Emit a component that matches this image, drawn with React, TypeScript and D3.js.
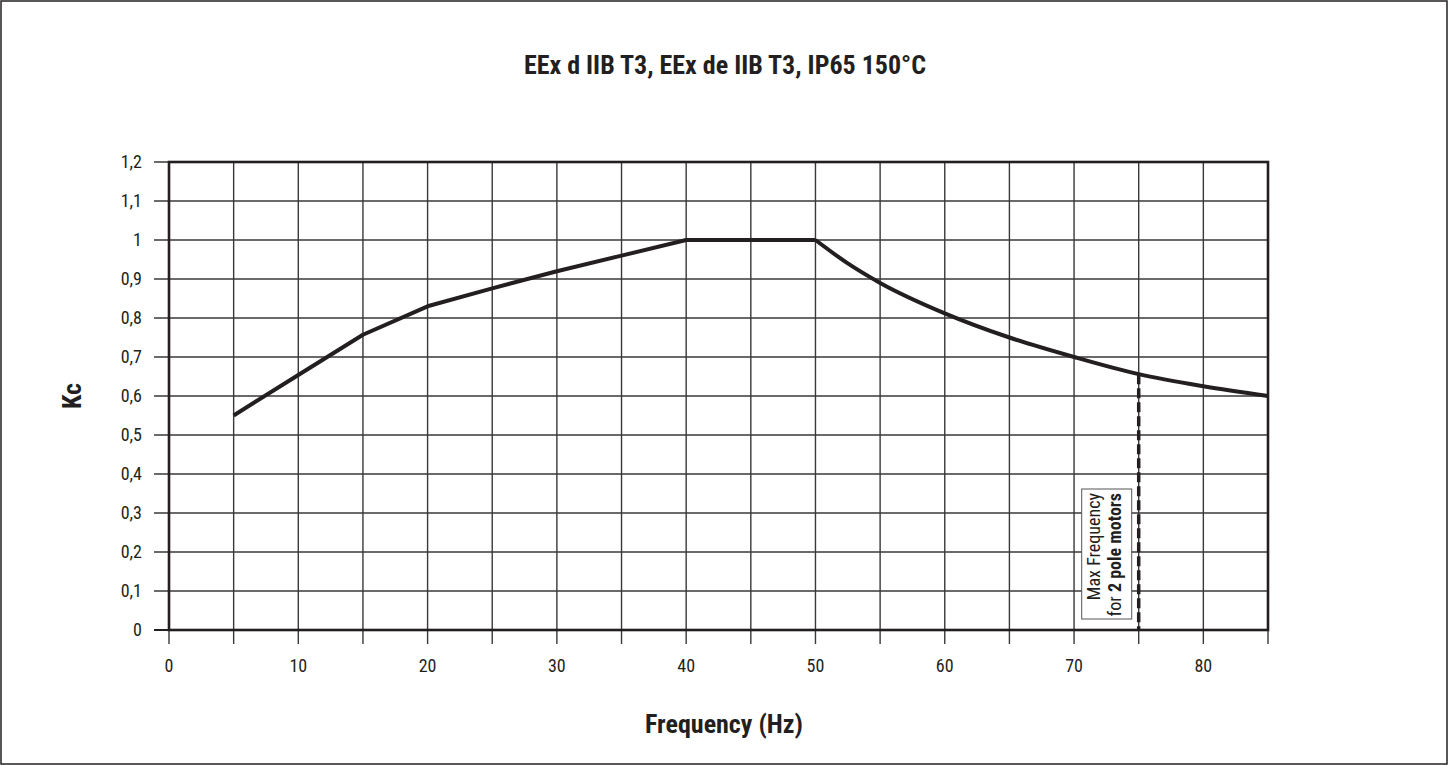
import { useEffect, useRef } from 'react';
import * as d3 from 'd3';

// chart values
const title = 'EEx d IIB T3, EEx de IIB T3, IP65 150°C';
const xTicks = [0, 10, 20, 30, 40, 50, 60, 70, 80];
const yTicks = [0, 0.1, 0.2, 0.3, 0.4, 0.5, 0.6, 0.7, 0.8, 0.9, 1, 1.1, 1.2];
const rampFreq = [5, 10, 15, 20, 25, 30, 35, 40, 50];
const rampKc = [0.55, 0.654, 0.757, 0.83, 0.876, 0.92, 0.96, 1.0, 1.0];
const decayFreq = [50, 52.5, 55, 60, 65, 70, 75, 80, 85];
const decayKc = [1.0, 0.94, 0.89, 0.812, 0.75, 0.7, 0.656, 0.625, 0.6];
const maxFreq2Pole = 75;

const FONT = "'Liberation Sans Narrow', 'Roboto Condensed', 'Arial Narrow', 'Liberation Sans', sans-serif";

const Chart = () => {
	const ref = useRef<SVGSVGElement>(null);

	useEffect(() => {
		const svg = d3.select(ref.current);
		svg.selectAll('*').remove();

		const width = 1448,
			height = 765;
		const margin = { top: 162, right: 180, bottom: 135, left: 169 };
		const plotW = width - margin.left - margin.right;
		const plotH = height - margin.top - margin.bottom;

		// outer border
		svg
			.append('rect')
			.attr('x', 1)
			.attr('y', 1)
			.attr('width', width - 2)
			.attr('height', height - 2)
			.attr('fill', '#fff')
			.attr('stroke', '#231f20')
			.attr('stroke-width', 1.5);

		const x = d3.scaleLinear().domain([0, 85]).range([margin.left, margin.left + plotW]);
		const y = d3.scaleLinear().domain([0, 1.2]).range([margin.top + plotH, margin.top]);

		const gridX = d3.range(0, 86, 5);
		const grid = svg.append('g').attr('stroke', '#3a3839').attr('stroke-width', 1.4);

		// vertical grid lines + ticks below axis
		grid
			.selectAll('line.v')
			.data(gridX)
			.join('line')
			.attr('x1', (d) => x(d))
			.attr('x2', (d) => x(d))
			.attr('y1', y(1.2))
			.attr('y2', y(0) + 14);

		// horizontal grid lines + ticks left of axis
		grid
			.selectAll('line.h')
			.data(yTicks)
			.join('line')
			.attr('x1', x(0) - 15)
			.attr('x2', x(85))
			.attr('y1', (d) => y(d))
			.attr('y2', (d) => y(d));

		// frame
		svg
			.append('rect')
			.attr('x', x(0))
			.attr('y', y(1.2))
			.attr('width', plotW)
			.attr('height', plotH)
			.attr('fill', 'none')
			.attr('stroke', '#231f20')
			.attr('stroke-width', 2.6);
		svg
			.append('line')
			.attr('x1', x(0) - 15)
			.attr('x2', x(0))
			.attr('y1', y(0))
			.attr('y2', y(0))
			.attr('stroke', '#231f20')
			.attr('stroke-width', 2);

		// tick labels
		svg
			.append('g')
			.selectAll('text')
			.data(yTicks)
			.join('text')
			.attr('x', x(0) - 27)
			.attr('y', (d) => y(d))
			.attr('dy', '0.35em')
			.attr('text-anchor', 'end')
			.style('font-family', FONT)
			.style('font-size', '18px')
			.attr('fill', '#231f20')
			.text((d) => d3.format('~g')(d).replace('.', ','));

		svg
			.append('g')
			.selectAll('text')
			.data(xTicks)
			.join('text')
			.attr('x', (d) => x(d))
			.attr('y', y(0) + 42)
			.attr('text-anchor', 'middle')
			.style('font-family', FONT)
			.style('font-size', '18px')
			.attr('fill', '#231f20')
			.text((d) => d);

		// dashed marker for 2 pole motors
		const markY = decayKc[decayFreq.indexOf(maxFreq2Pole)];
		svg
			.append('line')
			.attr('x1', x(maxFreq2Pole))
			.attr('x2', x(maxFreq2Pole))
			.attr('y1', y(markY))
			.attr('y2', y(0))
			.attr('stroke', '#231f20')
			.attr('stroke-width', 3.5)
			.attr('stroke-dasharray', '10,4');

		// annotation box
		const boxX = x(maxFreq2Pole) - 57;
		const boxY = y(0) - 141;
		const box = svg.append('g');
		box
			.append('rect')
			.attr('x', boxX)
			.attr('y', boxY)
			.attr('width', 50)
			.attr('height', 130)
			.attr('fill', '#fff')
			.attr('stroke', '#555')
			.attr('stroke-width', 1);
		const label = box
			.append('text')
			.attr('transform', `translate(${boxX + 18},${boxY + 4}) rotate(-90)`)
			.attr('text-anchor', 'end')
			.style('font-family', FONT)
			.style('font-size', '18px')
			.attr('fill', '#231f20');
		label.append('tspan').attr('x', 0).attr('y', 0).text('Max Frequency');
		const l2 = label.append('tspan').attr('x', 0).attr('y', 0).attr('dy', 21);
		l2.append('tspan').text('for ');
		l2.append('tspan').style('font-weight', 'bold').text('2 pole motors');

		// Kc curve
		const ramp = rampFreq.map((f, i) => [f, rampKc[i]] as [number, number]);
		const decay = decayFreq.map((f, i) => [f, decayKc[i]] as [number, number]);
		const lineLin = d3
			.line<[number, number]>()
			.x((d) => x(d[0]))
			.y((d) => y(d[1]));
		const lineCurve = d3
			.line<[number, number]>()
			.x((d) => x(d[0]))
			.y((d) => y(d[1]))
			.curve(d3.curveMonotoneX);
		const curveG = svg
			.append('g')
			.attr('fill', 'none')
			.attr('stroke', '#231f20')
			.attr('stroke-width', 4)
			.attr('stroke-linejoin', 'round');
		curveG.append('path').attr('d', lineLin(ramp));
		curveG.append('path').attr('d', lineCurve(decay));

		// titles
		svg
			.append('text')
			.attr('x', 725)
			.attr('y', 74)
			.attr('text-anchor', 'middle')
			.style('font-family', FONT)
			.style('font-size', '26px')
			.style('font-weight', 'bold')
			.attr('fill', '#231f20')
			.text(title);

		svg
			.append('text')
			.attr('transform', `translate(81,${(y(0) + y(1.2)) / 2}) rotate(-90)`)
			.attr('text-anchor', 'middle')
			.style('font-family', FONT)
			.style('font-size', '26px')
			.style('font-weight', 'bold')
			.attr('fill', '#231f20')
			.text('Kc');

		svg
			.append('text')
			.attr('x', 724)
			.attr('y', 733)
			.attr('text-anchor', 'middle')
			.style('font-family', FONT)
			.style('font-size', '26px')
			.style('font-weight', 'bold')
			.attr('fill', '#231f20')
			.text('Frequency (Hz)');
	}, []);

	return (
		<svg
			ref={ref}
			width={1448}
			height={765}
			style={{ position: 'absolute', left: 0, top: 0, display: 'block' }}
		></svg>
	);
};

export default function App() {
	return <Chart />;
}
